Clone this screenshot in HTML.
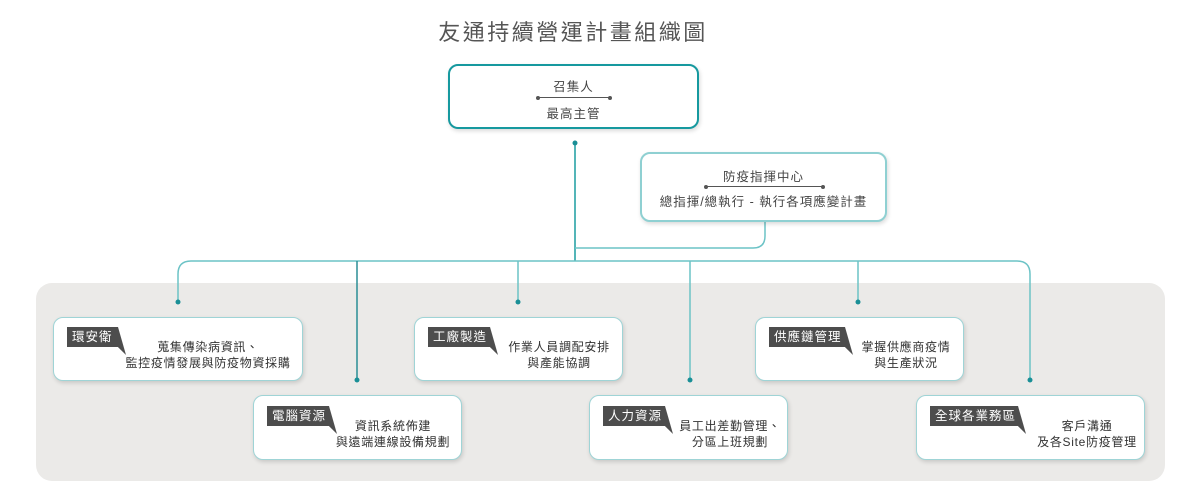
<!DOCTYPE html>
<html><head><meta charset="utf-8"><style>
*{margin:0;padding:0;box-sizing:border-box}
body{width:1200px;height:500px;background:#fff;position:relative;overflow:hidden;font-family:"Liberation Sans","Noto Sans CJK TC",sans-serif;color:#444}
.a{position:absolute}
.title{left:0;width:1146px;top:15px;text-align:center;font-size:22px;letter-spacing:2.5px;color:#555}
.bg{left:36px;top:283px;width:1129px;height:198px;background:#ebeae8;border-radius:16px}
.box{position:absolute;background:#fff;border:1.5px solid #9fd4d6;border-radius:10px;box-shadow:1px 2px 4px rgba(0,0,0,.15)}
.tag{position:absolute;height:20px;background:#4d4d4d;color:#fff;font-size:12.5px;line-height:20px;padding-left:5px;letter-spacing:1px}
.tag:after{content:"";position:absolute;right:-8px;top:0;width:8px;height:28px;background:#4d4d4d;clip-path:polygon(0 0,100% 100%,0 72%)}
.txt{position:absolute;font-size:12px;line-height:16px;letter-spacing:0.7px;text-align:center;color:#333;white-space:nowrap;transform:translateX(-50%)}
.c{font-size:12.5px;letter-spacing:1px;color:#444;text-align:center;position:absolute;white-space:nowrap}
.ln{position:absolute;height:1px;background:#555}
.ln:before,.ln:after{content:"";position:absolute;top:-1.5px;width:4px;height:4px;border-radius:50%;background:#555}
.ln:before{left:-2px}.ln:after{right:-2px}
</style></head><body>
<div class="a title">友通持續營運計畫組織圖</div>
<div class="a bg"></div>
<svg class="a" style="left:0;top:0" width="1200" height="500">
<g fill="none" stroke-width="1.5">
<path d="M575 143 V261" stroke="#1a9ca1"/>
<path d="M765 222 V236 Q765 248 753 248 H575" stroke="#6cc3c6"/>
<path d="M178 302 V274 Q178 261 191 261 H1017 Q1030 261 1030 274 V380" stroke="#6cc3c6"/>
<path d="M518 261 V302 M690 261 V380 M858 261 V302" stroke="#6cc3c6"/>
<path d="M357 261 V380" stroke="#2a8e96"/>
</g>
<g fill="#1a8f96">
<circle cx="575" cy="143" r="2.5"/><circle cx="178" cy="302" r="2.5"/><circle cx="357" cy="380" r="2.5"/>
<circle cx="518" cy="302" r="2.5"/><circle cx="690" cy="380" r="2.5"/><circle cx="858" cy="302" r="2.5"/><circle cx="1030" cy="380" r="2.5"/>
</g>
</svg>
<div class="box" style="left:448px;top:64px;width:251px;height:65px;border:2px solid #16999f"></div>
<div class="c" style="left:448px;width:251px;top:76px">召集人</div>
<div class="ln" style="left:538px;top:97px;width:72px"></div>
<div class="c" style="left:448px;width:251px;top:103px">最高主管</div>
<div class="box" style="left:640px;top:152px;width:247px;height:70px;border:2px solid #8fd0d2"></div>
<div class="c" style="left:640px;width:247px;top:166px">防疫指揮中心</div>
<div class="ln" style="left:706px;top:186px;width:117px"></div>
<div class="c" style="left:640px;width:247px;top:191px">總指揮/總執行 - 執行各項應變計畫</div>

<div class="box" style="left:53px;top:317px;width:250px;height:64px"></div>
<div class="tag" style="left:67px;top:327px;width:51px">環安衛</div>
<div class="txt" style="left:208px;top:339px">蒐集傳染病資訊、<br>監控疫情發展與防疫物資採購</div>

<div class="box" style="left:253px;top:395px;width:209px;height:65px"></div>
<div class="tag" style="left:267px;top:406px;width:62px">電腦資源</div>
<div class="txt" style="left:393px;top:418px">資訊系統佈建<br>與遠端連線設備規劃</div>

<div class="box" style="left:414px;top:317px;width:209px;height:64px"></div>
<div class="tag" style="left:428px;top:327px;width:62px">工廠製造</div>
<div class="txt" style="left:559px;top:339px">作業人員調配安排<br>與產能協調</div>

<div class="box" style="left:589px;top:395px;width:199px;height:65px"></div>
<div class="tag" style="left:603px;top:406px;width:62px">人力資源</div>
<div class="txt" style="left:730px;top:418px">員工出差勤管理、<br>分區上班規劃</div>

<div class="box" style="left:755px;top:317px;width:209px;height:64px"></div>
<div class="tag" style="left:769px;top:327px;width:76px">供應鏈管理</div>
<div class="txt" style="left:906px;top:339px">掌握供應商疫情<br>與生產狀況</div>

<div class="box" style="left:916px;top:395px;width:229px;height:65px"></div>
<div class="tag" style="left:930px;top:406px;width:88px">全球各業務區</div>
<div class="txt" style="left:1087px;top:418px">客戶溝通<br>及各Site防疫管理</div>
</body></html>
